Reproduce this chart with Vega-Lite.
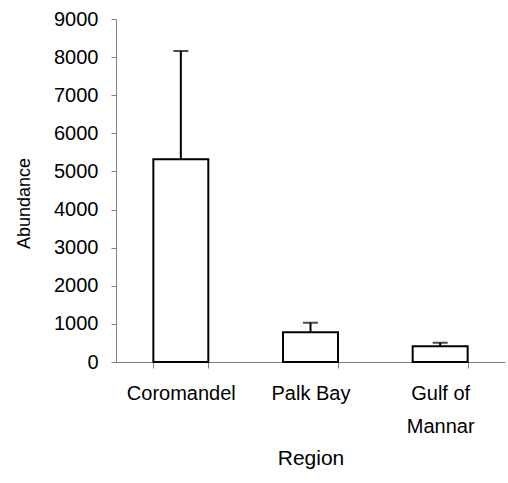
{
  "$schema": "https://vega.github.io/schema/vega-lite/v6.json",
  "autosize": "none",
  "padding": {"left": 116, "top": 19, "right": 3, "bottom": 121},
  "width": 389,
  "height": 343,
  "background": "white",
  "config": {
    "view": {"stroke": null},
    "font": "Liberation Sans",
    "axis": {"labelFont": "Liberation Sans", "titleFont": "Liberation Sans", "labelColor": "black", "titleColor": "black", "titleFontWeight": "normal", "domainColor": "#808080", "tickColor": "#808080", "grid": false}
  },
  "data": {
    "values": [
      {"Region": "Coromandel", "Abundance": 5320, "Upper": 8160},
      {"Region": "Palk Bay", "Abundance": 780, "Upper": 1030},
      {"Region": "Gulf of Mannar", "Abundance": 410, "Upper": 505}
    ]
  },
  "encoding": {
    "x": {
      "field": "Region", "type": "nominal", "sort": null,
      "scale": {"paddingInner": 0.576, "paddingOuter": 0.288},
      "axis": {
        "labelAngle": 0, "labelFontSize": 20, "titleFontSize": 21,
        "tickBand": "extent", "tickSize": 6, "labelPadding": 15,
        "labelLineHeight": 33,
        "labelExpr": "datum.label == 'Gulf of Mannar' ? ['Gulf of', 'Mannar'] : datum.label",
        "titlePadding": 11
      }
    },
    "y": {
      "field": "Abundance", "type": "quantitative", "title": "Abundance",
      "scale": {"domain": [0, 9000], "nice": false},
      "axis": {
        "values": [0, 1000, 2000, 3000, 4000, 5000, 6000, 7000, 8000, 9000],
        "format": "d", "labelFontSize": 20, "titleFontSize": 18,
        "tickSize": 5, "labelPadding": 13,
        "titleX": -83, "titleY": 184, "titleAlign": "center"
      }
    }
  },
  "layer": [
    {
      "mark": {"type": "rule", "color": "black", "strokeWidth": 2},
      "encoding": {
        "y2": {"field": "Upper"}
      }
    },
    {
      "mark": {"type": "tick", "color": "black", "size": 15, "thickness": 2},
      "encoding": {
        "y": {"field": "Upper", "type": "quantitative", "title": "Abundance"}
      }
    },
    {
      "mark": {"type": "bar", "fill": "white", "stroke": "black", "strokeWidth": 2}
    }
  ]
}
